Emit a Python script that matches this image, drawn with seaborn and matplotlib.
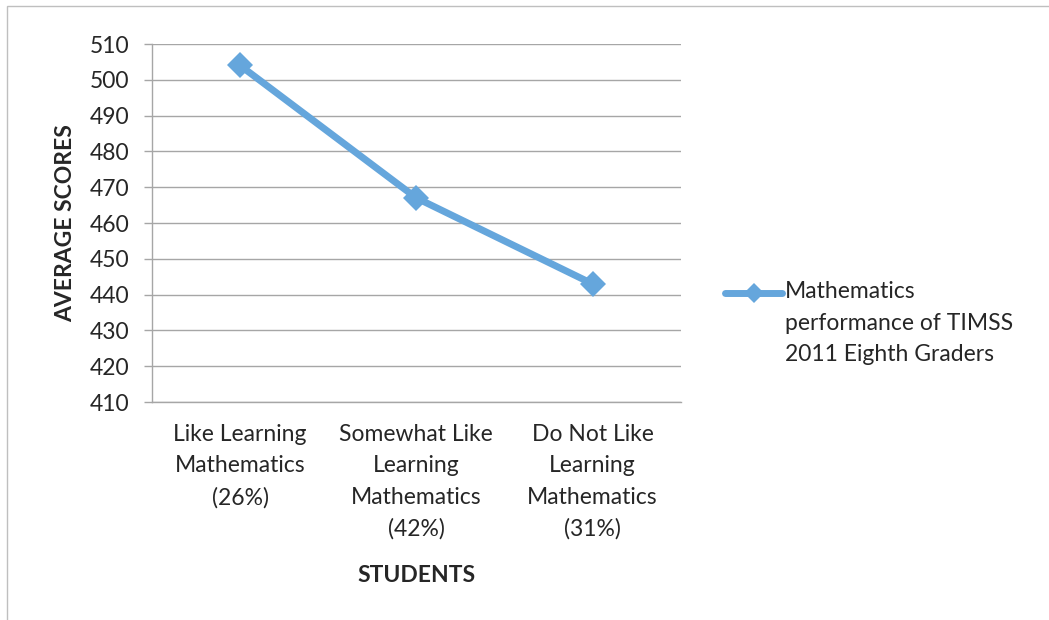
# TIMSS 2011 eighth graders - maths score vs attitude towards learning maths
import pandas as pd
import matplotlib.pyplot as plt
import seaborn as sns
from matplotlib.patches import Rectangle

categories = ["Like Learning\nMathematics\n(26%)",
              "Somewhat Like\nLearning\nMathematics\n(42%)",
              "Do Not Like\nLearning\nMathematics\n(31%)"]
scores = [504, 467, 443]
series_name = "Mathematics\nperformance of TIMSS\n2011 Eighth Graders"
y_ticks = list(range(410, 511, 10))

df = pd.DataFrame({"pos": range(len(categories)), "score": scores, "series": series_name})

sns.set_style("white")
plt.rcParams["font.family"] = ["Lato", "DejaVu Sans"]

line_color = "#65A6DC"
grid_color = "#A6A6A6"
fs = 16.5

fig = plt.figure(figsize=(10.49, 6.2), dpi=100)
ax = fig.add_axes([0.1449, 0.3516, 0.504, 0.5774])

sns.lineplot(data=df, x="pos", y="score", hue="series", palette=[line_color],
             marker="D", markersize=13, linewidth=5, markeredgewidth=0,
             ax=ax)

ax.set_xlim(-0.5, len(categories) - 0.5)
ax.set_ylim(410, 510)
ax.set_yticks(y_ticks)
ax.set_yticklabels([str(v) for v in y_ticks], fontsize=fs)
ax.yaxis.grid(True, color=grid_color, linewidth=1)
ax.set_axisbelow(True)

# category labels in the middle, tick marks on the boundaries
ax.set_xticks(range(len(categories)))
ax.set_xticklabels(categories, fontsize=fs, linespacing=1.6)
ax.tick_params(axis="x", which="major", length=0, pad=16)
ax.set_xticks([i - 0.5 for i in range(len(categories) + 1)], minor=True)
ax.tick_params(axis="x", which="minor", length=6, color=grid_color, width=1, direction="out")
ax.tick_params(axis="y", length=6, color=grid_color, width=1, direction="out", pad=10, left=True)

for side in ["top", "right"]:
    ax.spines[side].set_visible(False)
for side in ["left", "bottom"]:
    ax.spines[side].set_color(grid_color)
    ax.spines[side].set_linewidth(1)

ax.set_xlabel("STUDENTS", fontsize=16.5, fontweight="bold", labelpad=18)
ax.set_ylabel("AVERAGE SCORES", fontsize=16.5, fontweight="bold", labelpad=10)

leg = ax.legend(loc="upper left", bbox_to_anchor=(1.045, 0.47), frameon=False,
                fontsize=fs, handlelength=2.5, handletextpad=0.1,
                handleheight=9.6)
for t in leg.get_texts():
    t.set_linespacing(1.6)
for h in leg.legend_handles:
    h.set_markersize(10)

# light frame around the whole chart like the excel chart area
fig.patches.append(Rectangle((0.007, -0.01), 1.1, 1.0, transform=fig.transFigure,
                             fill=False, edgecolor="#BFBFBF", linewidth=1))

fig.savefig("out.png", dpi=100)
